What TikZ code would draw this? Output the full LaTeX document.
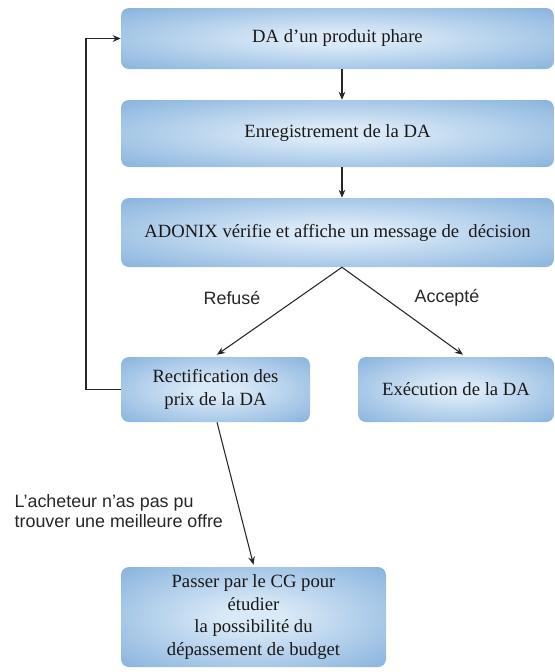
\documentclass[tikz,border=0pt]{standalone}
\usepackage{fontspec}
\setmainfont{Liberation Serif}
\setsansfont{Liberation Sans}
\usetikzlibrary{arrows.meta}
\definecolor{boxedge}{HTML}{6199D1}
\definecolor{boxrim}{HTML}{4A84C2}
\definecolor{boxcore}{HTML}{D9E9F7}
\pgfdeclareradialshading{boxglow}{\pgfpoint{0bp}{0bp}}{%
  color(0bp)=(boxcore); color(6bp)=(boxcore); color(50bp)=(boxedge); color(72bp)=(boxrim)}
\newlength{\px}
\setlength{\px}{0.75pt}
\tikzset{
  stepbox/.style={rectangle, rounded corners=8\px, shading=boxglow,
    align=center, font=\fontsize{14pt}{17pt}\selectfont, text=black!90},
  flow/.style={draw=black!85, line width=0.8pt, -{Stealth[length=6pt,width=5pt]}},
  lbl/.style={font=\sffamily\fontsize{13.4pt}{14.5pt}\selectfont, text=black!85}
}
\begin{document}
\begin{tikzpicture}[x=\px, y=-\px]
  \useasboundingbox (0,0) rectangle (555,672);
  % process boxes
  \node[stepbox, minimum width=433\px, minimum height=61\px] (b1) at (337.5,38.5) {DA d’un produit phare};
  \node[stepbox, minimum width=433\px, minimum height=67\px] (b2) at (337.5,133.5) {Enregistrement de la DA};
  \node[stepbox, minimum width=433\px, minimum height=69\px] (b3) at (337.5,232.5) {ADONIX vérifie et affiche un message de\ \ décision};
  \node[stepbox, minimum width=189\px, minimum height=65\px] (rect) at (215.5,389.5) {Rectification des\\prix de la DA};
  \node[stepbox, minimum width=196\px, minimum height=65\px] (exec) at (456,389.5) {Exécution de la DA};
  \node[stepbox, minimum width=265\px, minimum height=100\px] (cg) at (253.5,617) {Passer par le CG pour\\étudier\\la possibilité du\\dépassement de budget};
  % connectors
  \draw[flow] ([xshift=4.5\px]b1.south) -- ([xshift=4.5\px]b2.north);
  \draw[flow] ([xshift=4.5\px]b2.south) -- ([xshift=4.5\px]b3.north);
  \draw[flow] ([xshift=4.5\px]b3.south) -- ([xshift=1.5\px,yshift=2\px]rect.north);
  \draw[flow] ([xshift=4.5\px]b3.south) -- ([xshift=7\px,yshift=2\px]exec.north);
  \draw[flow] ([xshift=1.5\px]rect.south) -- ([yshift=2\px]cg.north);
  \coordinate (loop) at (86,389.5);
  \draw[flow] (rect.west) -- (loop) |- (b1.west);
  % labels
  \node[lbl] (refuse) at (232,298) {Refusé};
  \node[lbl] (accepte) at (447,298) {Accepté};
  \node[lbl, align=left, anchor=west] (note) at (10,511) {L’acheteur n’as pas pu\\trouver une meilleure offre};
\end{tikzpicture}
\end{document}
